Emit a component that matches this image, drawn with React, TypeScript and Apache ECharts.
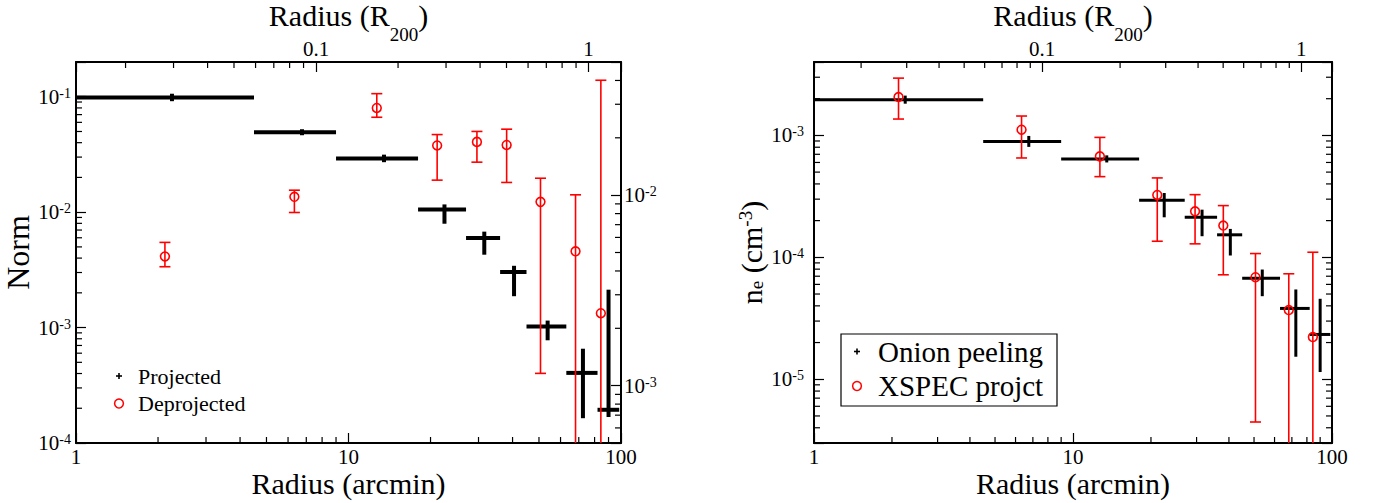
import { useEffect, useRef } from "react";
import * as echarts from "echarts";

const FONT = '"Liberation Serif", "Times New Roman", Times, serif';
const R200_ARCMIN = 76; // 1 R200 in arcmin (top axis conversion)

// ---- radial bins (arcmin) ----
const binCenter = [2.25, 6.75, 13.5, 22.5, 31.5, 40.5, 53.8, 72.5, 90];
const binLo = [1, 4.5, 9, 18, 27, 36, 45, 63, 82];
const binHi = [4.5, 9, 18, 27, 36, 45, 63, 82, 98.5];
const deprojRadius = [2.12, 6.33, 12.7, 21.15, 29.6, 38.05, 50.65, 68.1, 84.35];

// ---- left panel: Norm ----
const projNorm = [0.0986, 0.0493, 0.0292, 0.01057, 0.00598, 0.00303, 0.00102, 0.000405, 0.000194];
const projNormLo = [0.0915, 0.0464, 0.0271, 0.00794, 0.00428, 0.00187, 0.000776, 0.000164, 0.000168];
const projNormHi = [0.1062, 0.0523, 0.0315, 0.01167, 0.00678, 0.00343, 0.00115, 0.000656, 0.00213];
const deprojNorm = [0.00477, 0.0098, 0.0287, 0.01823, 0.01904, 0.01836, 0.00922, 0.00507, 0.0024];
const deprojNormLo = [0.00421, 0.00811, 0.02564, 0.01199, 0.0149, 0.01166, 0.00116, 0.0001, 0.0001];
const deprojNormHi = [0.00565, 0.01062, 0.0341, 0.0208, 0.0216, 0.0222, 0.01227, 0.01004, 0.0401];

// ---- right panel: n_e ----
const onionNe = [0.00196, 0.000893, 0.000641, 0.000294, 0.000213, 0.000153, 0.0000675, 0.0000381, 0.0000233];
const onionNeLo = [0.00182, 0.000805, 0.0006, 0.000213, 0.000149, 0.0001035, 0.000048, 0.0000153, 0.00001146];
const onionNeHi = [0.00212, 0.00099, 0.000686, 0.000337, 0.000246, 0.000171, 0.0000794, 0.0000545, 0.0000457];
const xspecNe = [0.002063, 0.001113, 0.000673, 0.000325, 0.0002385, 0.000182, 0.0000687, 0.0000369, 0.00002216];
const xspecNeLo = [0.001362, 0.000653, 0.000459, 0.0001355, 0.000129, 0.0000719, 0.00000446, 0.0000001, 0.0000001];
const xspecNeHi = [0.00295, 0.001442, 0.000963, 0.000448, 0.0003267, 0.0002656, 0.0001074, 0.0000733, 0.0001101];

// ---- axis ranges ----
const arcminRange = [1, 100];
const r200Range = [arcminRange[0] / R200_ARCMIN, arcminRange[1] / R200_ARCMIN];
const normRange = [1e-4, 0.2];
const deprojRange = [5e-4, 5e-2];
const neRange = [3e-6, 4e-3];

// ---- legend labels ----
const leftLegend = ["Projected", "Deprojected"];
const rightLegend = ["Onion peeling", "XSPEC projct"];

function minorTicks(min: number, max: number) {
  const out: number[] = [];
  for (let e = Math.floor(Math.log10(min)); e <= Math.ceil(Math.log10(max)); e++) {
    for (let k = 2; k <= 9; k++) {
      const v = k * Math.pow(10, e);
      if (v > min * 1.0001 && v < max * 0.9999) out.push(v);
    }
  }
  return out;
}

function isPow10(v: number) {
  const l = Math.log10(v);
  return Math.abs(l - Math.round(l)) < 1e-6;
}

const plainFmt = (v: number) => (isPow10(v) ? String(Number(v.toPrecision(6))) : "");
const powFmt = (v: number) => (isPow10(v) ? `{b|10}{s|${Math.round(Math.log10(v))}}` : "");

const powRich = {
  b: { fontFamily: FONT, fontSize: 21, lineHeight: 21, color: "#000", verticalAlign: "middle" },
  s: { fontFamily: FONT, fontSize: 14, lineHeight: 14, color: "#000", verticalAlign: "top", padding: [0, 0, 23, 0] },
};

const lineStyle = { color: "#000", width: 2 };
const tickStyle = { color: "#000", width: 1.2 };

function baseAxis(extra: any) {
  return {
    type: "log",
    logBase: 10,
    axisLine: { show: true, onZero: false, lineStyle },
    axisTick: { show: true, inside: true, length: 10, lineStyle: tickStyle },
    splitLine: { show: false },
    minorTick: { show: false },
    nameMoveOverlap: false,
    ...extra,
  };
}

function tickSeries(xi: number, yi: number, values: number[], side: string, ref: number) {
  const horiz = side === "bottom" || side === "top";
  return {
    type: "custom",
    xAxisIndex: xi,
    yAxisIndex: yi,
    silent: true,
    clip: false,
    z: 5,
    data: values.map((v) => (horiz ? [v, ref] : [ref, v])),
    renderItem: (params: any, api: any) => {
      const cs = params.coordSys;
      const L = 6;
      if (horiz) {
        const x = api.coord([api.value(0), ref])[0];
        const y0 = side === "bottom" ? cs.y + cs.height : cs.y;
        const y1 = side === "bottom" ? y0 - L : y0 + L;
        return { type: "line", shape: { x1: x, y1: y0, x2: x, y2: y1 }, style: { stroke: "#000", lineWidth: 1.2 } };
      }
      const y = api.coord([ref, api.value(1)])[1];
      const x0 = side === "left" ? cs.x : cs.x + cs.width;
      const x1 = side === "left" ? x0 + L : x0 - L;
      return { type: "line", shape: { x1: x0, y1: y, x2: x1, y2: y }, style: { stroke: "#000", lineWidth: 1.2 } };
    },
  };
}

function crossSeries(name: string, xi: number, yi: number, ys: number[], lo: number[], hi: number[], lw: number) {
  return {
    type: "custom",
    name,
    xAxisIndex: xi,
    yAxisIndex: yi,
    clip: true,
    silent: true,
    z: 3,
    data: binCenter.map((x, i) => [x, ys[i], binLo[i], binHi[i], lo[i], hi[i]]),
    renderItem: (_p: any, api: any) => {
      const x = api.value(0);
      const y = api.value(1);
      const c = api.coord([x, y]);
      const l = api.coord([api.value(2), y]);
      const r = api.coord([api.value(3), y]);
      const b = api.coord([x, api.value(4)]);
      const t = api.coord([x, api.value(5)]);
      return {
        type: "group",
        children: [
          { type: "line", shape: { x1: l[0], y1: c[1], x2: r[0], y2: c[1] }, style: { stroke: "#000", lineWidth: lw } },
          { type: "line", shape: { x1: c[0], y1: t[1], x2: c[0], y2: b[1] }, style: { stroke: "#000", lineWidth: lw } },
        ],
      };
    },
  };
}

function circleSeries(name: string, xi: number, yi: number, ys: number[], lo: number[], hi: number[]) {
  return {
    type: "custom",
    name,
    xAxisIndex: xi,
    yAxisIndex: yi,
    clip: true,
    silent: true,
    z: 4,
    data: deprojRadius.map((x, i) => [x, ys[i], lo[i], hi[i]]),
    renderItem: (_p: any, api: any) => {
      const x = api.value(0);
      const c = api.coord([x, api.value(1)]);
      const b = api.coord([x, api.value(2)]);
      const t = api.coord([x, api.value(3)]);
      const st = { stroke: "#ff0000", lineWidth: 1.6 };
      const cap = 5.5;
      return {
        type: "group",
        children: [
          { type: "line", shape: { x1: c[0], y1: t[1], x2: c[0], y2: b[1] }, style: st },
          { type: "line", shape: { x1: c[0] - cap, y1: t[1], x2: c[0] + cap, y2: t[1] }, style: st },
          { type: "line", shape: { x1: c[0] - cap, y1: b[1], x2: c[0] + cap, y2: b[1] }, style: st },
          { type: "circle", shape: { cx: c[0], cy: c[1], r: 4.4 }, style: { ...st, fill: "none" } },
        ],
      };
    },
  };
}

function legendGraphic(x: number, ys: number[], labels: string[], fontSize: number, box: any) {
  const children: any[] = [];
  if (box) {
    children.push({ type: "rect", shape: box, style: { fill: "#fff", stroke: "#000", lineWidth: 1.2 } });
  }
  const px = x;
  children.push({ type: "line", shape: { x1: px - 3, y1: ys[0], x2: px + 3, y2: ys[0] }, style: { stroke: "#000", lineWidth: 1.6 } });
  children.push({ type: "line", shape: { x1: px, y1: ys[0] - 3, x2: px, y2: ys[0] + 3 }, style: { stroke: "#000", lineWidth: 1.6 } });
  children.push({ type: "circle", shape: { cx: px, cy: ys[1], r: 4.4 }, style: { fill: "none", stroke: "#ff0000", lineWidth: 1.5 } });
  labels.forEach((t, i) => {
    children.push({
      type: "text",
      style: { text: t, x: px + (box ? 21 : 19), y: ys[i], font: `${fontSize}px ${FONT}`, fill: "#000", verticalAlign: "middle", align: "left" },
    });
  });
  return { type: "group", children };
}

export default function App() {
  const ref = useRef<HTMLDivElement>(null);
  useEffect(() => {
    if (!ref.current) return;
    const chart = echarts.init(ref.current, null, { renderer: "svg" });
    const nameStyle = { fontFamily: FONT, fontSize: 30, color: "#000" };
    const topName = "{t|Radius (R}{sub|200}{t|)}";
    const topNameStyle = {
      ...nameStyle,
      rich: {
        t: { fontFamily: FONT, fontSize: 30, lineHeight: 30, color: "#000", verticalAlign: "top" },
        sub: { fontFamily: FONT, fontSize: 19, lineHeight: 19, color: "#000", verticalAlign: "top", padding: [25, 0, 0, 0] },
      },
    };
    const labelPlain = { fontFamily: FONT, fontSize: 21, lineHeight: 18, color: "#000", formatter: plainFmt };

    const option: any = {
      animation: false,
      backgroundColor: "#fff",
      grid: [
        { left: 76, top: 62, width: 545, height: 381, containLabel: false, outerBoundsMode: "none" },
        { left: 814, top: 62, width: 518, height: 381, containLabel: false, outerBoundsMode: "none" },
      ],
      xAxis: [
        baseAxis({
          gridIndex: 0, position: "bottom", min: arcminRange[0], max: arcminRange[1],
          axisLabel: { ...labelPlain, margin: 5 },
          name: "Radius (arcmin)", nameLocation: "middle", nameGap: 25, nameTextStyle: nameStyle,
        }),
        baseAxis({
          gridIndex: 0, position: "top", min: r200Range[0], max: r200Range[1],
          axisLabel: { ...labelPlain, margin: 4 },
          name: topName, nameLocation: "middle", nameGap: 32, nameTextStyle: topNameStyle,
        }),
        baseAxis({
          gridIndex: 1, position: "bottom", min: arcminRange[0], max: arcminRange[1],
          axisLabel: { ...labelPlain, margin: 5 },
          name: "Radius (arcmin)", nameLocation: "middle", nameGap: 25, nameTextStyle: nameStyle,
        }),
        baseAxis({
          gridIndex: 1, position: "top", min: r200Range[0], max: r200Range[1],
          axisLabel: { ...labelPlain, margin: 4 },
          name: topName, nameLocation: "middle", nameGap: 32, nameTextStyle: topNameStyle,
        }),
      ],
      yAxis: [
        baseAxis({
          gridIndex: 0, position: "left", min: normRange[0], max: normRange[1],
          axisLabel: { formatter: powFmt, rich: powRich, margin: 5 },
          name: "Norm", nameLocation: "middle", nameGap: 42, nameRotate: 90, nameTextStyle: { ...nameStyle, fontSize: 32 },
        }),
        baseAxis({
          gridIndex: 0, position: "right", min: deprojRange[0], max: deprojRange[1],
          axisLabel: { formatter: powFmt, rich: powRich, margin: 3 },
        }),
        baseAxis({
          gridIndex: 1, position: "left", min: neRange[0], max: neRange[1],
          axisLabel: { formatter: powFmt, rich: powRich, margin: 10 },
          name: "{t|n}{sub|e}{t| (cm}{sup|-3}{t|)}", nameLocation: "middle", nameGap: 48, nameRotate: 90,
          nameTextStyle: {
            ...nameStyle,
            rich: {
              t: { fontFamily: FONT, fontSize: 30, lineHeight: 30, color: "#000", verticalAlign: "middle" },
              sub: { fontFamily: FONT, fontSize: 19, lineHeight: 19, color: "#000", verticalAlign: "bottom" },
              sup: { fontFamily: FONT, fontSize: 19, lineHeight: 19, color: "#000", verticalAlign: "top", padding: [0, 0, 22, 0] },
            },
          },
        }),
        baseAxis({
          gridIndex: 1, position: "right", min: neRange[0], max: neRange[1],
          axisLabel: { show: false },
        }),
      ],
      series: [
        tickSeries(0, 0, minorTicks(arcminRange[0], arcminRange[1]), "bottom", normRange[0]),
        tickSeries(1, 0, minorTicks(r200Range[0], r200Range[1]), "top", normRange[0]),
        tickSeries(0, 0, minorTicks(normRange[0], normRange[1]), "left", arcminRange[0]),
        tickSeries(0, 1, minorTicks(deprojRange[0], deprojRange[1]), "right", arcminRange[0]),
        tickSeries(2, 2, minorTicks(arcminRange[0], arcminRange[1]), "bottom", neRange[0]),
        tickSeries(3, 2, minorTicks(r200Range[0], r200Range[1]), "top", neRange[0]),
        tickSeries(2, 2, minorTicks(neRange[0], neRange[1]), "left", arcminRange[0]),
        tickSeries(2, 3, minorTicks(neRange[0], neRange[1]), "right", arcminRange[0]),
        crossSeries(leftLegend[0], 0, 0, projNorm, projNormLo, projNormHi, 4),
        circleSeries(leftLegend[1], 0, 1, deprojNorm, deprojNormLo, deprojNormHi),
        crossSeries(rightLegend[0], 2, 2, onionNe, onionNeLo, onionNeHi, 3),
        circleSeries(rightLegend[1], 2, 2, xspecNe, xspecNeLo, xspecNeHi),
      ],
      graphic: [
        legendGraphic(119, [376, 403.5], leftLegend, 22, null),
        legendGraphic(857, [351.5, 386], rightLegend, 29, { x: 841, y: 334, width: 216, height: 72 }),
      ],
    };
    chart.setOption(option);
    return () => chart.dispose();
  }, []);
  return <div ref={ref} style={{ position: "absolute", left: 0, top: 0, width: 1380, height: 503, background: "#fff" }} />;
}
